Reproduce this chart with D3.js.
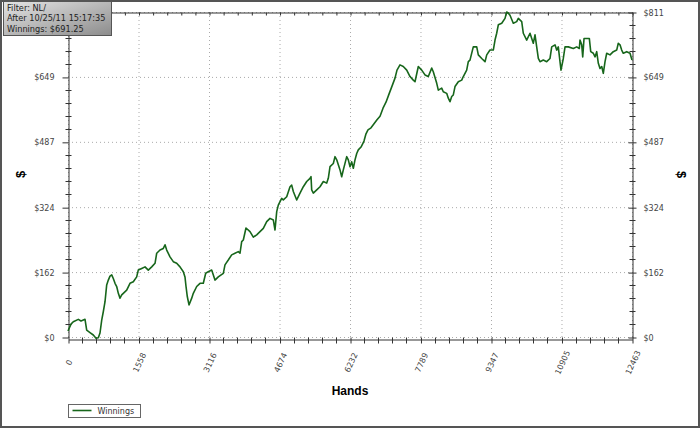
<!DOCTYPE html>
<html>
<head>
<meta charset="utf-8">
<script src="https://cdn.jsdelivr.net/npm/d3@7"></script>
<style>
    body { margin: 0; background: #fff; }
    svg text { font-family: "DejaVu Sans", sans-serif; }
</style>
</head>
<body>
<div id="chart"></div>
<script>
// hand number / cumulative winnings
const hands = [0, 66, 117, 228, 287, 376, 413, 486, 559, 619, 670, 707, 745, 780, 818, 855, 891, 928, 966, 1001,
    1039, 1076, 1112, 1149, 1187, 1222, 1297, 1370, 1443, 1518, 1553, 1629, 1702, 1774, 1850, 1923, 1960, 2033, 2106, 2144,
    2181, 2254, 2327, 2402, 2475, 2548, 2585, 2608, 2636, 2674, 2734, 2769, 2844, 2917, 2990, 3043, 3100, 3175, 3248, 3321,
    3432, 3469, 3542, 3617, 3690, 3763, 3801, 3838, 3874, 3933, 4022, 4095, 4170, 4243, 4316, 4391, 4464, 4537, 4574, 4612,
    4647, 4722, 4758, 4833, 4906, 4943, 4979, 5054, 5127, 5200, 5275, 5348, 5370, 5385, 5421, 5496, 5569, 5642, 5717, 5752,
    5790, 5863, 5900, 5938, 6011, 6048, 6084, 6159, 6194, 6232, 6269, 6305, 6342, 6380, 6415, 6475, 6541, 6585, 6629, 6696,
    6762, 6828, 6895, 6961, 7027, 7093, 7160, 7226, 7270, 7336, 7409, 7485, 7558, 7630, 7668, 7741, 7816, 7889, 7962, 8037,
    8072, 8148, 8183, 8258, 8293, 8368, 8404, 8441, 8479, 8514, 8552, 8625, 8700, 8735, 8810, 8846, 8883, 8956, 9032, 9067,
    9142, 9215, 9253, 9325, 9398, 9436, 9473, 9509, 9584, 9657, 9694, 9730, 9767, 9840, 9915, 9951, 10026, 10061, 10136, 10209,
    10247, 10282, 10320, 10357, 10393, 10430, 10503, 10578, 10651, 10689, 10762, 10799, 10834, 10872, 10894, 10945, 10983, 11056, 11166, 11241,
    11299, 11314, 11352, 11374, 11403, 11462, 11520, 11551, 11608, 11646, 11683, 11719, 11756, 11794, 11829, 11867, 11904, 11977, 12050, 12125,
    12160, 12198, 12235, 12271, 12346, 12419, 12463];
const winnings = [15, 32, 38, 44, 40, 44, 17, 11, 5, -3, -2, 10, 42, 63, 88, 130, 142, 152, 155, 146,
    134, 126, 109, 97, 105, 109, 117, 134, 138, 150, 167, 171, 175, 167, 175, 184, 209, 217, 221, 230,
    217, 200, 188, 184, 175, 163, 150, 126, 101, 80, 97, 109, 126, 134, 134, 159, 163, 167, 142, 150,
    159, 180, 192, 205, 209, 213, 209, 238, 242, 272, 263, 249, 255, 263, 271, 288, 296, 292, 267, 313,
    329, 346, 342, 350, 375, 379, 363, 342, 359, 375, 388, 396, 400, 367, 359, 367, 375, 388, 384, 396,
    425, 433, 450, 442, 417, 400, 417, 450, 442, 425, 437, 421, 442, 458, 467, 474, 489, 507, 517, 522,
    532, 542, 551, 571, 586, 606, 626, 646, 666, 679, 675, 666, 650, 641, 637, 675, 666, 654, 650, 671,
    662, 633, 616, 621, 612, 608, 596, 587, 600, 604, 625, 637, 641, 650, 666, 687, 691, 724, 724, 704,
    695, 687, 704, 716, 716, 741, 758, 779, 783, 795, 811, 808, 803, 783, 787, 795, 787, 758, 741, 758,
    745, 733, 754, 724, 695, 687, 691, 687, 695, 724, 729, 716, 724, 687, 666, 695, 724, 724, 720, 724,
    720, 741, 729, 699, 745, 745, 745, 712, 708, 699, 712, 683, 670, 675, 658, 687, 708, 704, 712, 716,
    733, 729, 716, 708, 712, 708, 691.25];

const handTicks = [0, 1558, 3116, 4674, 6232, 7789, 9347, 10905, 12463];
const dollarTicks = [0, 162, 324, 487, 649, 811];
const infoLines = ["Filter: NL/", "After 10/25/11 15:17:35", "Winnings: $691.25"];
const seriesName = "Winnings";
const xTitle = "Hands";
const yTitle = "$";

// 4 minor ticks between each pair of major ticks
let minorTicks = (ticks) => {
    let out = [];
    for (let i = 0; i < ticks.length - 1; i++) {
        for (let k = 1; k < 5; k++) {
            out.push(ticks[i] + (ticks[i + 1] - ticks[i]) * k / 5);
        }
    }
    return out;
}

let drawChart = () => {
    const w = 700, h = 428;
    const left = 68, right = 632, top = 12, bottom = 337;

    const x = d3.scaleLinear().domain([0, 12463]).range([left, right]);
    const y = d3.scaleLinear().domain([0, 811]).range([bottom, top]);

    const svg = d3.select("#chart")
        .append("svg")
        .attr("width", w)
        .attr("height", h);

    svg.append("rect")
        .attr("width", w).attr("height", h)
        .attr("fill", "#fff");

    // dotted grid
    svg.append("g")
        .selectAll("line")
        .data(handTicks)
        .enter()
        .append("line")
        .attr("x1", d => x(d) + 0.5).attr("x2", d => x(d) + 0.5)
        .attr("y1", top).attr("y2", bottom)
        .attr("stroke", "#aaa")
        .attr("stroke-dasharray", "1,3");

    svg.append("g")
        .selectAll("line")
        .data(dollarTicks)
        .enter()
        .append("line")
        .attr("x1", left).attr("x2", right)
        .attr("y1", d => y(d) + 0.5).attr("y2", d => y(d) + 0.5)
        .attr("stroke", "#aaa")
        .attr("stroke-dasharray", "1,3");

    const xMinor = minorTicks(handTicks);
    const yMinor = minorTicks(dollarTicks);

    // left axis (top label sits under the info box, so it is left out)
    const leftAxis = svg.append("g")
        .attr("transform", "translate(" + (left + 0.5) + ",0.5)")
        .call(d3.axisLeft(y).tickValues(dollarTicks).tickSize(6).tickSizeOuter(0).tickPadding(8)
            .tickFormat(d => "$" + d));
    leftAxis.selectAll(".tick text").filter(d => d === 811).remove();
    leftAxis.append("g")
        .selectAll("line")
        .data(yMinor)
        .enter()
        .append("line")
        .attr("x1", -3).attr("x2", 3)
        .attr("y1", d => Math.round(y(d))).attr("y2", d => Math.round(y(d)));

    // right axis
    const rightAxis = svg.append("g")
        .attr("transform", "translate(" + (right + 0.5) + ",0.5)")
        .call(d3.axisRight(y).tickValues(dollarTicks).tickSize(4).tickSizeOuter(0).tickPadding(7)
            .tickFormat(d => "$" + d));
    rightAxis.selectAll(".tick line").attr("x1", -4);
    rightAxis.append("g")
        .selectAll("line")
        .data(yMinor)
        .enter()
        .append("line")
        .attr("x1", -3).attr("x2", 3)
        .attr("y1", d => Math.round(y(d))).attr("y2", d => Math.round(y(d)));

    // bottom axis, labels turned
    const bottomAxis = svg.append("g")
        .attr("transform", "translate(0.5," + (bottom + 2.5) + ")")
        .call(d3.axisBottom(x).tickValues(handTicks).tickSize(4).tickSizeOuter(0)
            .tickFormat(d => String(d)));
    bottomAxis.selectAll(".tick line").attr("y1", -2);
    bottomAxis.selectAll(".tick text")
        .attr("y", 0)
        .attr("dy", "0.35em")
        .attr("transform", "translate(0,23) rotate(-65)")
        .style("text-anchor", "middle");
    bottomAxis.append("g")
        .selectAll("line")
        .data(xMinor)
        .enter()
        .append("line")
        .attr("x1", d => Math.round(x(d))).attr("x2", d => Math.round(x(d)))
        .attr("y1", -2).attr("y2", 4);

    // top axis, ticks only
    const topAxis = svg.append("g")
        .attr("transform", "translate(0.5," + (top + 0.5) + ")")
        .call(d3.axisBottom(x).tickValues(handTicks.concat(xMinor)).tickSize(3).tickSizeOuter(0)
            .tickFormat(""));
    topAxis.selectAll(".tick text").remove();

    [leftAxis, rightAxis, bottomAxis, topAxis].forEach(g => {
        g.selectAll("path.domain").attr("stroke", "#333");
        g.selectAll("line").attr("stroke", "#333");
        g.selectAll("text")
            .attr("fill", "#444")
            .style("font-family", "'DejaVu Sans', sans-serif")
            .style("font-size", "8px");
    });

    // winnings line
    const line = d3.line()
        .x(d => x(d[0]))
        .y(d => y(d[1]));

    svg.append("path")
        .datum(d3.zip(hands, winnings))
        .attr("d", line)
        .attr("fill", "none")
        .attr("stroke", "#17661b")
        .attr("stroke-width", 1.6)
        .attr("stroke-linejoin", "round");

    // axis titles
    svg.append("text")
        .attr("x", (left + right) / 2).attr("y", 395)
        .attr("text-anchor", "middle")
        .style("font-family", "'Liberation Sans', Arial, sans-serif")
        .style("font-size", "12px")
        .style("font-weight", "bold")
        .text(xTitle);

    svg.append("text")
        .attr("transform", "translate(20," + (top + bottom) / 2 + ") rotate(-90)")
        .attr("text-anchor", "middle")
        .attr("dy", "0.35em")
        .style("font-family", "'Liberation Sans', Arial, sans-serif")
        .style("font-size", "13px")
        .style("font-weight", "bold")
        .text(yTitle);

    svg.append("text")
        .attr("transform", "translate(682," + (top + bottom) / 2 + ") rotate(90)")
        .attr("text-anchor", "middle")
        .attr("dy", "0.35em")
        .style("font-family", "'Liberation Sans', Arial, sans-serif")
        .style("font-size", "13px")
        .style("font-weight", "bold")
        .text(yTitle);

    // legend
    const legend = svg.append("g").attr("transform", "translate(68.5,404.5)");
    legend.append("rect")
        .attr("width", 72).attr("height", 13)
        .attr("fill", "#fff")
        .attr("stroke", "#666");
    legend.append("line")
        .attr("x1", 4).attr("x2", 23)
        .attr("y1", 6).attr("y2", 6)
        .attr("stroke", "#17661b")
        .attr("stroke-width", 1.6);
    legend.append("text")
        .attr("x", 29).attr("y", 9.5)
        .attr("fill", "#333")
        .style("font-size", "8px")
        .text(seriesName);

    // info box, top left
    const grad = svg.append("defs")
        .append("linearGradient")
        .attr("id", "boxGrad")
        .attr("x1", "0").attr("y1", "0").attr("x2", "1").attr("y2", "1");
    grad.append("stop").attr("offset", "0%").attr("stop-color", "#e4e4e4");
    grad.append("stop").attr("offset", "100%").attr("stop-color", "#8c8c8c");

    const info = svg.append("g").attr("transform", "translate(3.5,1.5)");
    info.append("rect")
        .attr("width", 108).attr("height", 34)
        .attr("fill", "url(#boxGrad)")
        .attr("stroke", "#555");
    info.selectAll("text")
        .data(infoLines)
        .enter()
        .append("text")
        .attr("x", 3.5)
        .attr("y", (d, i) => 9 + i * 10.5)
        .attr("fill", "#222")
        .style("font-size", "8.2px")
        .text(d => d);

    // outer frame
    svg.append("rect")
        .attr("x", 1).attr("y", 1)
        .attr("width", w - 2).attr("height", h - 2)
        .attr("fill", "none")
        .attr("stroke", "#555")
        .attr("stroke-width", 2);
}

drawChart();
</script>
</body>
</html>
